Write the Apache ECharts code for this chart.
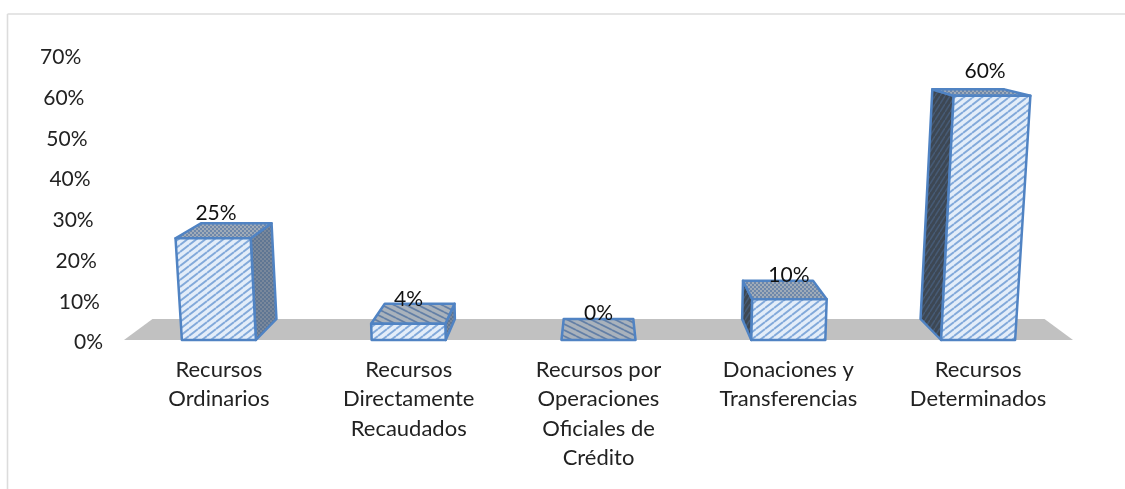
<!DOCTYPE html>
<html>
<head>
<meta charset="utf-8">
<style>html,body{margin:0;padding:0;background:#fff}#c{width:1125px;height:489px}</style>
<script src="https://cdn.jsdelivr.net/npm/echarts@6/dist/echarts.min.js"></script>
</head>
<body>
<div id="c"></div>
<script>
const categories = ["Recursos\nOrdinarios", "Recursos\nDirectamente\nRecaudados", "Recursos por\nOperaciones\nOficiales de\nCrédito", "Donaciones y\nTransferencias", "Recursos\nDeterminados"];
const values = [25, 4, 0, 10, 60];
const yTicks = [0, 10, 20, 30, 40, 50, 60, 70];

const FONT = 'Lato, "Open Sans", sans-serif';
const FONT_SIZE = 21;
const CATEGORY_FONT_SIZE = 22;
const BACK_SCALE = 0.94, BACK_RISE = 21, FLOOR_RISE = 21, FLARE = 0.00015, HALF_BAR = 0.195;

function tile(w, h, base, draw) {
  const c = document.createElement('canvas');
  c.width = w; c.height = h;
  const g = c.getContext('2d');
  g.fillStyle = base; g.fillRect(0, 0, w, h);
  draw(g, w, h);
  return { image: c, repeat: 'repeat' };
}
function stripes(base, ink, lw, w, h, down) {
  return tile(w, h, base, (g) => {
    g.strokeStyle = ink; g.lineWidth = lw;
    for (let i = -1; i <= 1; i++) {
      g.beginPath();
      if (down) { g.moveTo(0, i * h); g.lineTo(w, (i + 1) * h); }
      else { g.moveTo(0, (i + 1) * h); g.lineTo(w, i * h); }
      g.stroke();
    }
  });
}
function dots(base, ink) {
  return tile(4, 4, base, (g) => {
    g.fillStyle = ink;
    g.fillRect(0, 0, 2, 2);
    g.fillRect(2, 2, 2, 2);
  });
}
const fillFront = stripes('#e3edf9', '#82a9da', 1.9, 9, 7, false);
const fillSideLight = dots('#7a889b', '#5f7693');
const fillSideDark = stripes('#3d4753', '#465a75', 1.6, 5, 8, false);
const fillTopDots = dots('#a0abb8', '#6f88aa');
const fillTopLines = stripes('#a9b2bc', '#637fa6', 1.8, 12, 6, true);

function renderFloor(params, api) {
  const cs = params.coordSys;
  const cx = cs.x + cs.width / 2, bottom = cs.y + cs.height;
  const back = (x) => cx + (x - cx) * BACK_SCALE;
  return {
    type: 'polygon',
    silent: true,
    shape: { points: [[cs.x, bottom], [cs.x + cs.width, bottom], [back(cs.x + cs.width), bottom - FLOOR_RISE], [back(cs.x), bottom - FLOOR_RISE]] },
    style: { fill: '#c1c1c1' }
  };
}

function renderBar(params, api) {
  const cs = params.coordSys;
  const cx = cs.x + cs.width / 2;
  const v = api.value(1);
  const base = api.coord([api.value(0), 0]);
  const top = api.coord([api.value(0), v]);
  const h = base[1] - top[1];
  const half = api.size([1, 0])[0] * HALF_BAR;
  const flare = 1 + FLARE * h;
  const p = (x, d, lift) => {
    const s = d ? BACK_SCALE : 1;
    const yFloor = base[1] - (d ? BACK_RISE : 0);
    return [cx + (x - cx) * s * (lift ? flare : 1), yFloor - (lift ? h * s : 0)];
  };
  const L = base[0] - half, R = base[0] + half;
  const onLeft = base[0] < cx - 1, onRight = base[0] > cx + 1;
  const edge = { stroke: '#5083c3', lineWidth: 2.5, lineJoin: 'round' };
  const kids = [];
  if (onLeft) {
    kids.push({ type: 'polygon', shape: { points: [p(R, 0, 0), p(R, 1, 0), p(R, 1, 1), p(R, 0, 1)] }, style: Object.assign({ fill: fillSideLight }, edge) });
  } else if (onRight) {
    kids.push({ type: 'polygon', shape: { points: [p(L, 0, 0), p(L, 1, 0), p(L, 1, 1), p(L, 0, 1)] }, style: Object.assign({ fill: fillSideDark }, edge) });
  }
  kids.push({ type: 'polygon', shape: { points: [p(L, 0, 1), p(R, 0, 1), p(R, 1, 1), p(L, 1, 1)] }, style: Object.assign({ fill: v < 5 ? fillTopLines : fillTopDots }, edge) });
  if (h > 0) {
    kids.push({ type: 'polygon', shape: { points: [p(L, 0, 0), p(R, 0, 0), p(R, 0, 1), p(L, 0, 1)] }, style: Object.assign({ fill: fillFront }, edge) });
  }
  kids.push({
    type: 'text', z2: 10,
    style: {
      text: v + '%',
      x: cx + (base[0] - cx) * (1 + flare) / 2,
      y: top[1] - (h > 0 ? 24.5 : 27),
      align: 'center', verticalAlign: 'middle',
      font: FONT_SIZE + 'px ' + FONT, fill: '#111'
    }
  });
  return { type: 'group', children: kids };
}

const tickRich = {};
yTicks.forEach((t) => {
  tickRich['t' + t] = { fontFamily: FONT, fontSize: FONT_SIZE, color: '#222', padding: [5, t * 0.31, 0, 0] };
});

const chart = echarts.init(document.getElementById('c'), null, { renderer: 'canvas' });
chart.setOption({
  animation: false,
  backgroundColor: '#fff',
  graphic: [
    { type: 'line', silent: true, shape: { x1: 7.5, y1: 14, x2: 1125, y2: 14 }, style: { stroke: '#dcdcdc', lineWidth: 1.6 } },
    { type: 'line', silent: true, shape: { x1: 7.5, y1: 14, x2: 7.5, y2: 489 }, style: { stroke: '#dcdcdc', lineWidth: 1.6 } }
  ],
  grid: { left: 124, top: 55, width: 949, height: 285 },
  xAxis: {
    type: 'category',
    data: categories,
    axisLine: { show: false },
    axisTick: { show: false },
    axisLabel: { interval: 0, margin: 15, fontFamily: FONT, fontSize: CATEGORY_FONT_SIZE, color: '#222', lineHeight: 29.5, verticalAlign: 'top' }
  },
  yAxis: {
    type: 'value',
    min: 0, max: 70, interval: 10,
    splitLine: { show: false },
    axisLine: { show: false },
    axisTick: { show: false },
    axisLabel: {
      margin: 21,
      formatter: (val) => '{t' + val + '|' + val + '%}',
      rich: tickRich
    }
  },
  series: [
    { type: 'custom', coordinateSystem: 'cartesian2d', silent: true, z: 1, renderItem: renderFloor, data: [[0, 0]], encode: { x: 0, y: 1 }, clip: false },
    { type: 'custom', coordinateSystem: 'cartesian2d', silent: true, z: 2, renderItem: renderBar, data: values.map((v, i) => [i, v]), encode: { x: 0, y: 1 }, clip: false }
  ]
});
</script>
</body>
</html>
